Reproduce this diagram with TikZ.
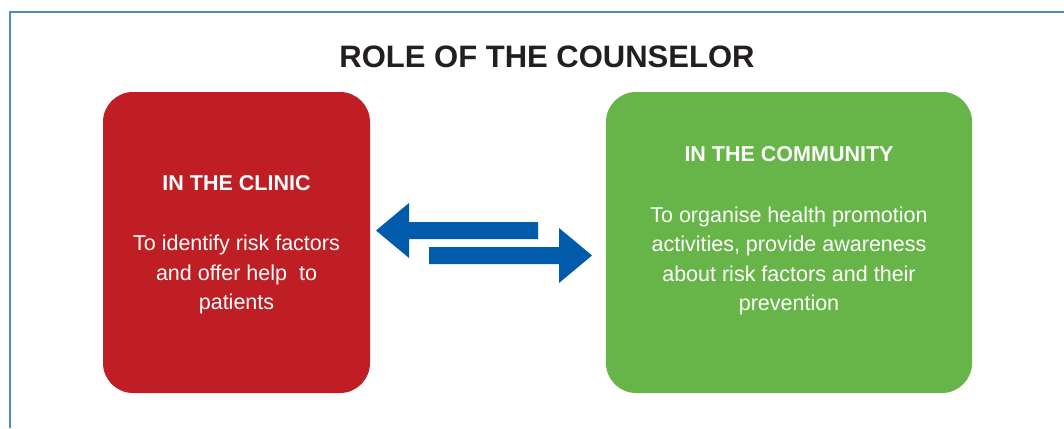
\documentclass[tikz,border=0pt]{standalone}
\usepackage{fontspec}
\setmainfont{Liberation Sans}
\definecolor{clinicred}{HTML}{BE1E24}
\definecolor{commgreen}{HTML}{67B548}
\definecolor{arrowblue}{HTML}{005BAA}
\definecolor{frameblue}{HTML}{4A8AC9}
\definecolor{titlegray}{HTML}{231F20}

\begin{document}
\begin{tikzpicture}[x=1pt, y=-1pt,
  box/.style={rounded corners=30pt, minimum height=301pt, inner sep=0pt},
  head/.style={font=\fontsize{21.5}{26}\selectfont\bfseries, text=white, inner sep=0pt, anchor=base},
  body/.style={font=\fontsize{21.5}{29.5}\selectfont, text=white, align=center, inner sep=0pt, anchor=north}]
\useasboundingbox (0,0) rectangle (1064,428);
\draw[frameblue, line width=1.5pt] (10,428) -- (10,12) -- (1064,12);
\node[anchor=base, font=\fontsize{31}{36}\selectfont\bfseries, text=titlegray, inner sep=0pt] (title) at (547,67) {ROLE OF THE COUNSELOR};
% the two boxes
\node[box, fill=clinicred, minimum width=267pt] (clinic) at (236.5,242.5) {};
\node[box, fill=commgreen, minimum width=366pt] (community) at (789,242.5) {};
\node[head] (clinichead) at (clinic.center |- 0,190) {IN THE CLINIC};
\node[body] (clinictext) at (clinic.center |- 0,235) {To identify risk factors\\and offer help\ \ to\\patients};
\node[head] (commhead) at (community.center |- 0,161) {IN THE COMMUNITY};
\node[body] (commtext) at (community.center |- 0,206.5) {To organise health promotion\\activities, provide awareness\\about risk factors and their\\prevention};
% arrows between them
\fill[arrowblue] (376,230.5) -- (409,203) -- (409,222) -- (538,222) -- (538,239) -- (409,239) -- (409,258) -- cycle;
\fill[arrowblue] (592,255.5) -- (559,228) -- (559,247) -- (429,247) -- (429,264) -- (559,264) -- (559,283) -- cycle;
\end{tikzpicture}
\end{document}
